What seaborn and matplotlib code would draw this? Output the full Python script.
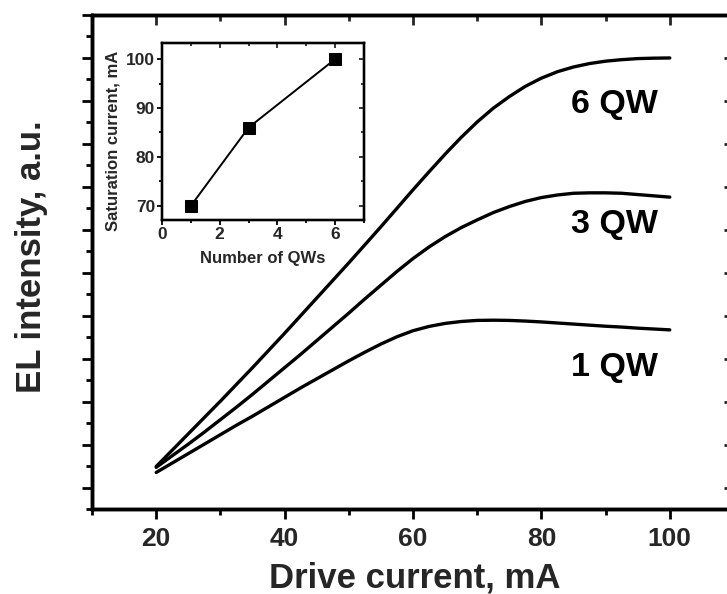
import matplotlib
matplotlib.use("Agg")
import matplotlib.pyplot as plt
import numpy as np
import pandas as pd
import seaborn as sns
from matplotlib.ticker import MultipleLocator, NullFormatter

# Electroluminescence vs drive current for 1, 3 and 6 quantum wells
current_ma = [20, 22.5, 25, 27.5, 30, 32.5, 35, 37.5, 40, 42.5, 45, 47.5, 50,
              52.5, 55, 57.5, 60, 62.5, 65, 67.5, 70, 72.5, 75, 77.5, 80,
              82.5, 85, 87.5, 90, 92.5, 95, 97.5, 100]
el_1qw = [3.5, 5.7, 7.9, 10.1, 12.3, 14.5, 16.6, 18.8, 21.0, 23.2, 25.3, 27.4, 29.5,
          31.5, 33.4, 35.1, 36.5, 37.5, 38.2, 38.65, 38.9, 38.95, 38.9, 38.75, 38.55,
          38.3, 38.05, 37.8, 37.55, 37.35, 37.1, 36.9, 36.7]
el_3qw = [4.7, 7.4, 10.1, 12.9, 15.8, 18.7, 21.7, 24.8, 27.9, 31.0, 34.2, 37.4, 40.6,
          43.9, 47.1, 50.3, 53.3, 56.0, 58.4, 60.5, 62.3, 64.0, 65.4, 66.6, 67.5,
          68.1, 68.5, 68.6, 68.6, 68.5, 68.2, 67.9, 67.6]
el_6qw = [4.9, 8.7, 12.5, 16.3, 20.1, 24.0, 27.9, 31.9, 35.9, 40.0, 44.1, 48.2, 52.3,
          56.5, 60.7, 65.0, 69.3, 73.5, 77.6, 81.5, 85.1, 88.3, 91.0, 93.4, 95.3,
          96.8, 97.9, 98.7, 99.25, 99.6, 99.85, 99.95, 100.0]
curve_labels = ["1 QW", "3 QW", "6 QW"]
label_pos_y = [26.0, 59.3, 87.2]

# Inset: saturation current vs number of wells
num_qws = [1, 3, 6]
sat_current_ma = [70, 86, 100]

sns.set_style("ticks")
plt.rcParams["font.family"] = ["Liberation Sans", "DejaVu Sans"]
plt.rcParams["font.weight"] = "bold"
plt.rcParams["axes.labelweight"] = "bold"

df = pd.DataFrame({
    "current": current_ma * 3,
    "intensity": el_1qw + el_3qw + el_6qw,
    "wells": [w for w in curve_labels for _ in current_ma],
})

W, H = 727, 594
fig = plt.figure(figsize=(W / 100, H / 100), dpi=100)
ax = fig.add_axes([92 / W, (H - 509) / H, 642 / W, 494 / H])

sns.lineplot(data=df, x="current", y="intensity", hue="wells", units="wells",
             estimator=None, palette=["black"] * 3, legend=False,
             linewidth=2.4, ax=ax)
for ln in ax.get_lines():
    ln.set_solid_joinstyle("round")
    ln.set_solid_capstyle("round")

ax.set_xlim(10, 110)
ax.set_ylim(-5, 110)
ax.xaxis.set_major_locator(MultipleLocator(20))
ax.xaxis.set_minor_locator(MultipleLocator(10))
ax.yaxis.set_major_locator(MultipleLocator(10))
ax.yaxis.set_minor_locator(MultipleLocator(5))
ax.yaxis.set_major_formatter(NullFormatter())
ax.tick_params(which="both", direction="out", width=2.0, color="black")
ax.tick_params(which="major", length=7.5, pad=5.5, labelsize=19)
ax.tick_params(which="minor", length=4.5)
for lab in ax.get_xticklabels():
    lab.set_fontweight("bold")
for sp in ax.spines.values():
    sp.set_visible(True)
    sp.set_linewidth(2.4)
    sp.set_color("black")

# mirrored inward ticks on top and right
axt = ax.twiny()
axt.set_xlim(ax.get_xlim())
axt.xaxis.set_major_locator(MultipleLocator(20))
axt.xaxis.set_minor_locator(MultipleLocator(10))
axt.tick_params(which="both", direction="in", width=2.0, labeltop=False)
axt.tick_params(which="major", length=7.5)
axt.tick_params(which="minor", length=4.5)
axr = ax.twinx()
axr.set_ylim(ax.get_ylim())
axr.yaxis.set_major_locator(MultipleLocator(10))
axr.yaxis.set_minor_locator(MultipleLocator(5))
axr.tick_params(which="both", direction="in", width=2.0, labelright=False)
axr.tick_params(which="major", length=7.5)
axr.tick_params(which="minor", length=4.5)
for a in (axt, axr):
    for sp in a.spines.values():
        sp.set_linewidth(2.4)
        sp.set_color("black")

ax.set_xlabel("Drive current, mA", fontsize=25, fontweight="bold")
ax.xaxis.set_label_coords(0.503, -0.139)
ax.xaxis.label.set_verticalalignment("center")
ax.set_ylabel("EL intensity, a.u.", fontsize=25, fontweight="bold")
ax.yaxis.set_label_coords(-0.094, 0.51)
ax.yaxis.label.set_verticalalignment("center")

for text, y in zip(curve_labels, label_pos_y):
    ax.text(98.1, y, text, ha="right", va="baseline", fontsize=24.5,
            fontweight="bold", color="black")

# inset
axin = fig.add_axes([162 / W, (H - 220) / H, 202 / W, 177 / H])
sns.lineplot(x=num_qws, y=sat_current_ma, marker="s", markersize=8,
             color="black", markeredgecolor="black", linewidth=1.4, ax=axin)
axin.set_xlim(0, 7)
axin.set_ylim(67.1, 103.3)
axin.xaxis.set_major_locator(MultipleLocator(2))
axin.xaxis.set_minor_locator(MultipleLocator(1))
axin.yaxis.set_major_locator(MultipleLocator(10))
axin.yaxis.set_minor_locator(MultipleLocator(5))
axin.tick_params(which="both", direction="out", width=1.3, color="black")
axin.tick_params(which="major", length=3.5, pad=1.5, labelsize=12.5)
axin.tick_params(which="minor", length=2.2)
for lab in axin.get_xticklabels() + axin.get_yticklabels():
    lab.set_fontweight("bold")
for sp in axin.spines.values():
    sp.set_linewidth(1.6)
    sp.set_color("black")
axin.set_xlabel("Number of QWs", fontsize=12, fontweight="bold")
axin.xaxis.set_label_coords(0.4975, -0.215)
axin.xaxis.label.set_verticalalignment("center")
axin.set_ylabel("Saturation current, mA", fontsize=12, fontweight="bold")
axin.yaxis.set_label_coords(-0.245, 0.446)
axin.yaxis.label.set_verticalalignment("center")

axint = axin.twiny()
axint.set_xlim(axin.get_xlim())
axint.xaxis.set_major_locator(MultipleLocator(2))
axint.xaxis.set_minor_locator(MultipleLocator(1))
axint.tick_params(which="both", direction="in", width=1.3, labeltop=False)
axint.tick_params(which="major", length=3.5)
axint.tick_params(which="minor", length=2.2)
axinr = axin.twinx()
axinr.set_ylim(axin.get_ylim())
axinr.yaxis.set_major_locator(MultipleLocator(10))
axinr.yaxis.set_minor_locator(MultipleLocator(5))
axinr.tick_params(which="both", direction="in", width=1.3, labelright=False)
axinr.tick_params(which="major", length=3.5)
axinr.tick_params(which="minor", length=2.2)
for a in (axint, axinr):
    for sp in a.spines.values():
        sp.set_linewidth(1.6)
        sp.set_color("black")

fig.savefig("out.png", dpi=100, facecolor="white")
